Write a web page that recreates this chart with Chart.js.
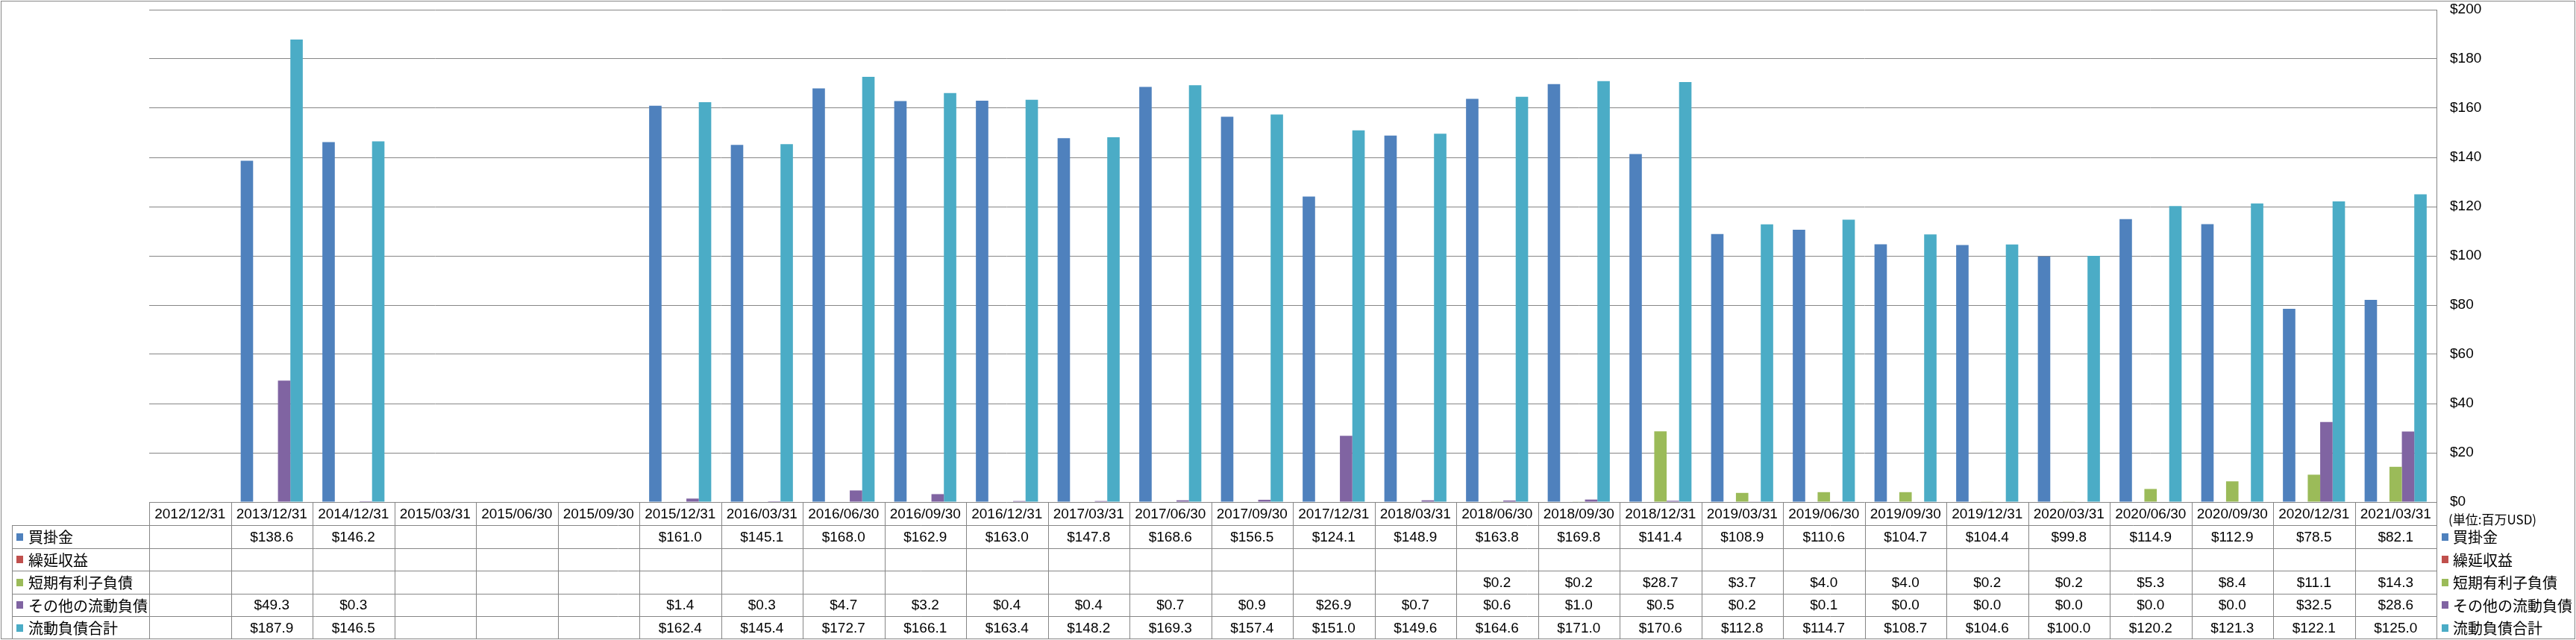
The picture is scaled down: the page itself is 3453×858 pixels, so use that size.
<!DOCTYPE html>
<html lang="ja">
<head>
    <meta charset="UTF-8">
    <title>流動負債</title>
    <script src="https://cdn.jsdelivr.net/npm/chart.js"></script>
    <style>
        body { margin: 0; background: #fff; }
        canvas { display: block; }
    </style>
</head>
<body>
    <canvas id="chart" width="3453" height="858"></canvas>

    <script>
        // 決算期
        const categories = ['2012/12/31', '2013/12/31', '2014/12/31', '2015/03/31', '2015/06/30', '2015/09/30',
            '2015/12/31', '2016/03/31', '2016/06/30', '2016/09/30', '2016/12/31', '2017/03/31', '2017/06/30',
            '2017/09/30', '2017/12/31', '2018/03/31', '2018/06/30', '2018/09/30', '2018/12/31', '2019/03/31',
            '2019/06/30', '2019/09/30', '2019/12/31', '2020/03/31', '2020/06/30', '2020/09/30', '2020/12/31',
            '2021/03/31'];

        const seriesNames = ['買掛金', '繰延収益', '短期有利子負債', 'その他の流動負債', '流動負債合計'];
        const seriesColors = ['#4F81BD', '#C0504D', '#9BBB59', '#8064A2', '#4BACC6'];

        // 単位:百万USD (null = 空欄)
        const kaikakekin = [null, 138.6, 146.2, null, null, null, 161.0, 145.1, 168.0, 162.9, 163.0, 147.8, 168.6,
            156.5, 124.1, 148.9, 163.8, 169.8, 141.4, 108.9, 110.6, 104.7, 104.4, 99.8, 114.9, 112.9, 78.5, 82.1];
        const kurinobe = [null, null, null, null, null, null, null, null, null, null, null, null, null, null,
            null, null, null, null, null, null, null, null, null, null, null, null, null, null];
        const tanki = [null, null, null, null, null, null, null, null, null, null, null, null, null, null,
            null, null, 0.2, 0.2, 28.7, 3.7, 4.0, 4.0, 0.2, 0.2, 5.3, 8.4, 11.1, 14.3];
        const sonota = [null, 49.3, 0.3, null, null, null, 1.4, 0.3, 4.7, 3.2, 0.4, 0.4, 0.7, 0.9, 26.9, 0.7,
            0.6, 1.0, 0.5, 0.2, 0.1, 0.0, 0.0, 0.0, 0.0, 0.0, 32.5, 28.6];
        const goukei = [null, 187.9, 146.5, null, null, null, 162.4, 145.4, 172.7, 166.1, 163.4, 148.2, 169.3,
            157.4, 151.0, 149.6, 164.6, 171.0, 170.6, 112.8, 114.7, 108.7, 104.6, 100.0, 120.2, 121.3, 122.1, 125.0];

        const seriesData = [kaikakekin, kurinobe, tanki, sonota, goukei];

        const yTicks = [0, 20, 40, 60, 80, 100, 120, 140, 160, 180, 200];
        const unitLabel = '(単位:百万USD)';

        const LINE = '#868686';
        const NUM_FONT = '19px "Liberation Sans", sans-serif';
        const JP_FONT = '20px "Noto Sans CJK JP", sans-serif';

        // 表の行の境界 (y)
        const rowEdges = [673, 704, 735, 765, 796, 826, 857];

        function crisp(v) {
            return Math.round(v) + 0.5;
        }

        // データテーブルと凡例を描く
        const tablePlugin = {
            id: 'dataTable',
            afterDraw(chart) {
                const ctx = chart.ctx;
                const area = chart.chartArea;
                const xs = chart.scales.x;
                const n = categories.length;
                const colW = (area.right - area.left) / n;

                ctx.save();
                ctx.strokeStyle = LINE;
                ctx.lineWidth = 1;

                // 外枠
                ctx.strokeRect(1.5, 1.5, chart.width - 3, chart.height - 3);

                // 横線
                ctx.beginPath();
                for (let r = 1; r < rowEdges.length - 1; r++) {
                    ctx.moveTo(16, crisp(rowEdges[r]));
                    ctx.lineTo(area.right, crisp(rowEdges[r]));
                }
                // 縦線
                for (let i = 0; i <= n; i++) {
                    const x = crisp(area.left + i * colW);
                    ctx.moveTo(x, rowEdges[0]);
                    ctx.lineTo(x, rowEdges[rowEdges.length - 1]);
                }
                ctx.moveTo(crisp(16), rowEdges[1]);
                ctx.lineTo(crisp(16), rowEdges[rowEdges.length - 1]);
                ctx.stroke();

                ctx.fillStyle = '#000';
                ctx.textAlign = 'center';
                ctx.textBaseline = 'middle';

                // 見出し (日付)
                ctx.font = NUM_FONT;
                categories.forEach((c, i) => {
                    ctx.fillText(c, xs.getPixelForValue(i), (rowEdges[0] + rowEdges[1]) / 2 + 1);
                });

                // 値
                seriesData.forEach((arr, s) => {
                    const yc = (rowEdges[s + 1] + rowEdges[s + 2]) / 2 + 1;
                    arr.forEach((v, i) => {
                        if (v === null) return;
                        ctx.fillText('$' + v.toFixed(1), xs.getPixelForValue(i), yc);
                    });
                });

                // 凡例 (左と右)
                ctx.textAlign = 'left';
                seriesNames.forEach((name, s) => {
                    const yc = (rowEdges[s + 1] + rowEdges[s + 2]) / 2;
                    ctx.fillStyle = seriesColors[s];
                    ctx.fillRect(22, Math.round(yc) - 5, 9, 10);
                    ctx.fillRect(3273, Math.round(yc) - 5, 9, 10);
                    ctx.fillStyle = '#000';
                    ctx.font = JP_FONT;
                    ctx.fillText(name, 38, yc + 1);
                    ctx.fillText(name, 3288, yc + 1);
                });

                ctx.font = '17px "Noto Sans CJK JP", sans-serif';
                ctx.fillText(unitLabel, 3282, 697);

                ctx.restore();
            }
        };

        const ctx = document.getElementById('chart').getContext('2d');

        new Chart(ctx, {
            type: 'bar',
            data: {
                labels: categories,
                datasets: seriesNames.map((name, i) => ({
                    label: name,
                    data: seriesData[i],
                    backgroundColor: seriesColors[i],
                    borderWidth: 0,
                    categoryPercentage: 0.76,
                    barPercentage: 1.0
                }))
            },
            options: {
                responsive: false,
                animation: false,
                layout: {
                    padding: { left: 200, top: 13, right: 0, bottom: 185 }
                },
                plugins: {
                    legend: { display: false },
                    tooltip: { enabled: false }
                },
                scales: {
                    x: { display: false },
                    y: {
                        position: 'right',
                        min: 0,
                        max: 200,
                        afterBuildTicks(scale) {
                            scale.ticks = yTicks.map(v => ({ value: v }));
                        },
                        afterFit(scale) {
                            scale.width = 187;
                            scale.paddingTop = 0;
                            scale.paddingBottom = 0;
                        },
                        ticks: {
                            padding: 18,
                            crossAlign: 'near',
                            color: '#000',
                            font: { family: '"Liberation Sans", sans-serif', size: 19 },
                            callback: v => '$' + v
                        },
                        grid: { color: LINE, drawTicks: false },
                        border: { color: LINE }
                    }
                }
            },
            plugins: [tablePlugin]
        });
    </script>
</body>
</html>
